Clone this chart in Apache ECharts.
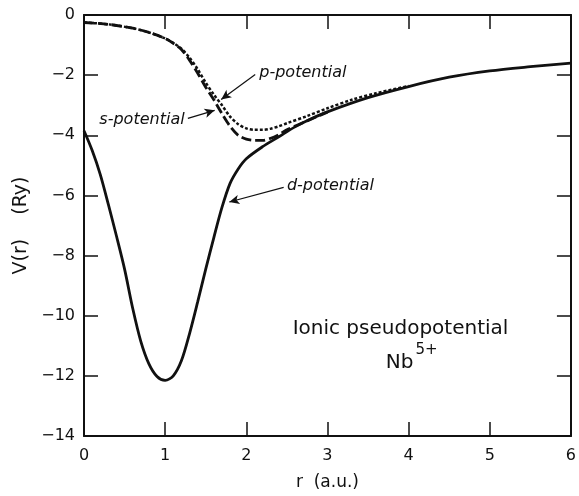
<!DOCTYPE html>
<html>
<head>
<meta charset="utf-8">
<script src="https://cdn.jsdelivr.net/npm/echarts@6/dist/echarts.min.js"></script>
<style>
  html, body { margin: 0; padding: 0; background: #fff; }
  #chart { width: 579px; height: 496px; }
</style>
</head>
<body>
<div id="chart"></div>
<script>
// r (a.u.) and V(r) (Ry)
const rD = [0, 0.1, 0.2, 0.3, 0.4, 0.5, 0.6, 0.7, 0.8, 0.9, 1.0, 1.1, 1.2, 1.3, 1.4, 1.5, 1.6, 1.7, 1.8, 1.9, 2.0, 2.2, 2.4, 2.6, 2.8, 3.0, 3.5, 4.0, 4.5, 5.0, 5.5, 6.0];
const dPot = [-3.85, -4.5, -5.3, -6.3, -7.35, -8.45, -9.75, -10.85, -11.6, -12.02, -12.15, -12.0, -11.5, -10.6, -9.55, -8.45, -7.4, -6.4, -5.6, -5.12, -4.78, -4.38, -4.05, -3.72, -3.45, -3.22, -2.75, -2.38, -2.07, -1.86, -1.72, -1.6];

const rS = [0, 0.3, 0.6, 0.8, 1.0, 1.1, 1.2, 1.3, 1.4, 1.5, 1.6, 1.7, 1.8, 1.9, 2.0, 2.1, 2.2, 2.3, 2.4, 2.5, 2.75, 3.0];
const sPot = [-0.25, -0.31, -0.44, -0.58, -0.78, -0.94, -1.15, -1.5, -1.93, -2.4, -2.82, -3.28, -3.7, -4.0, -4.13, -4.17, -4.17, -4.1, -3.98, -3.82, -3.52, -3.23];

const rP = [0, 0.3, 0.6, 0.8, 1.0, 1.1, 1.2, 1.3, 1.4, 1.5, 1.6, 1.7, 1.8, 1.9, 2.0, 2.1, 2.2, 2.3, 2.4, 2.5, 2.75, 3.0, 3.3, 3.6, 4.0];
const pPot = [-0.25, -0.31, -0.44, -0.58, -0.78, -0.93, -1.12, -1.42, -1.8, -2.25, -2.65, -3.0, -3.38, -3.63, -3.77, -3.82, -3.82, -3.78, -3.7, -3.6, -3.36, -3.1, -2.82, -2.6, -2.36];

// annotation arrows: [text, textR, textV, align, fromR, fromV, toR, toV]
const notes = [
  ['p-potential', 2.16, -1.92, 'left', 2.11, -1.98, 1.69, -2.81],
  ['s-potential', 1.24, -3.47, 'right', 1.28, -3.44, 1.61, -3.17],
  ['d-potential', 2.5, -5.67, 'left', 2.46, -5.73, 1.79, -6.22]
];

const font = '"DejaVu Sans", sans-serif';
const zip = (xs, ys) => xs.map((x, i) => [x, ys[i]]);

const chart = echarts.init(document.getElementById('chart'));

const axisBase = {
  type: 'value',
  axisLine: { show: true, onZero: false, lineStyle: { color: '#111', width: 2 } },
  axisTick: { show: true, inside: true, length: 14, lineStyle: { color: '#111', width: 1.5 } },
  splitLine: { show: false }
};

chart.setOption({
  animation: false,
  grid: { left: 84, right: 2, top: 15, bottom: 57 },
  xAxis: [
    {
      ...axisBase,
      min: 0, max: 6, interval: 1,
      name: 'r  (a.u.)',
      nameLocation: 'middle',
      nameGap: 38,
      nameTextStyle: { fontFamily: font, fontSize: 17, color: '#111' },
      axisLabel: { fontFamily: font, fontSize: 16, color: '#111', margin: 12 }
    },
    {
      ...axisBase,
      position: 'top',
      min: 0, max: 6, interval: 1,
      axisLabel: { show: false }
    }
  ],
  yAxis: [
    {
      ...axisBase,
      min: -14, max: 0, interval: 2,
      name: 'V(r)    (Ry)',
      nameLocation: 'middle',
      nameGap: 52,
      nameTextStyle: { fontFamily: font, fontSize: 19, color: '#111' },
      axisLabel: {
        fontFamily: font, fontSize: 16, color: '#111', margin: 9,
        formatter: (v) => (v === 0 ? '0' : '\u2212' + Math.abs(v))
      }
    },
    {
      ...axisBase,
      position: 'right',
      min: -14, max: 0, interval: 2,
      axisLabel: { show: false }
    }
  ],
  series: [
    {
      name: 'd-potential',
      type: 'line',
      smooth: 0.3,
      showSymbol: false,
      data: zip(rD, dPot),
      lineStyle: { color: '#111', width: 2.8 },
      z: 3
    },
    {
      name: 's-potential',
      type: 'line',
      smooth: 0.3,
      showSymbol: false,
      data: zip(rS, sPot),
      lineStyle: { color: '#111', width: 2.8, type: [10, 4] },
      z: 2
    },
    {
      name: 'p-potential',
      type: 'line',
      smooth: 0.3,
      showSymbol: false,
      data: zip(rP, pPot),
      lineStyle: { color: '#111', width: 2.5, type: [3, 2] },
      z: 2,
      markLine: {
        silent: true,
        symbol: ['none', 'arrow'],
        symbolSize: [7, 10],
        label: { show: false },
        lineStyle: { color: '#111', width: 1.2, type: 'solid' },
        data: notes.map((n) => [{ coord: [n[4], n[5]] }, { coord: [n[6], n[7]] }])
      }
    }
  ]
});

// text labels placed in data coordinates
const px = (r, v) => chart.convertToPixel({ xAxisIndex: 0, yAxisIndex: 0 }, [r, v]);
const ionic = px(3.9, -10.42);
const nb = px(3.9, -11.58);
chart.setOption({
  graphic: [
    ...notes.map((n) => {
      const p = px(n[1], n[2]);
      return {
        type: 'text', x: p[0], y: p[1],
        style: {
          text: n[0], fontFamily: font, fontSize: 16, fontStyle: 'italic',
          fill: '#111', align: n[3], verticalAlign: 'middle'
        }
      };
    }),
    {
      type: 'text', x: ionic[0], y: ionic[1],
      style: { text: 'Ionic pseudopotential', fontFamily: font, fontSize: 20, fill: '#111', align: 'center', verticalAlign: 'middle' }
    },
    {
      type: 'text', x: nb[0] + 13, y: nb[1],
      style: { text: 'Nb', fontFamily: font, fontSize: 20, fill: '#111', align: 'right', verticalAlign: 'middle' }
    },
    {
      type: 'text', x: nb[0] + 15, y: nb[1] - 13,
      style: { text: '5+', fontFamily: font, fontSize: 15, fill: '#111', align: 'left', verticalAlign: 'middle' }
    }
  ]
});
</script>
</body>
</html>
